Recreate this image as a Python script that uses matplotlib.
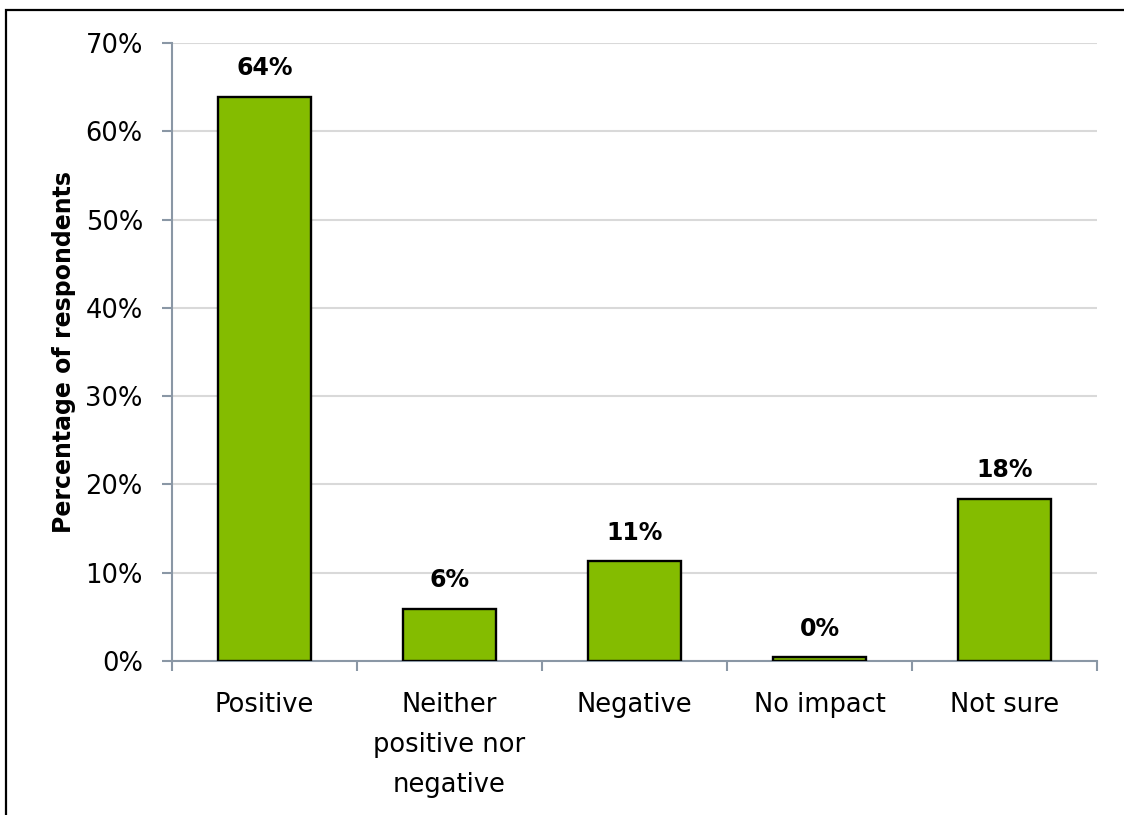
import matplotlib
matplotlib.use("Agg")
import matplotlib.pyplot as plt
from matplotlib.patches import Rectangle
from matplotlib.ticker import FixedLocator, FuncFormatter

# Survey responses
categories = ["Positive", "Neither\npositive nor\nnegative", "Negative", "No impact", "Not sure"]
shares = [63.9, 5.9, 11.3, 0.4, 18.4]
y_ticks = [0, 10, 20, 30, 40, 50, 60, 70]

BAR_COLOR = "#84bc00"
AXIS_COLOR = "#8a97a5"
GRID_COLOR = "#d9d9d9"

plt.rcParams["font.family"] = ["DejaVu Sans"]

fig = plt.figure(figsize=(11.24, 8.15), dpi=100)
W, H = 1124, 815
ax = fig.add_axes([172 / W, 1 - 661 / H, (1097 - 172) / W, (661 - 43) / H])

x = list(range(len(categories)))
ax.bar(x, shares, width=0.5, color=BAR_COLOR, edgecolor="black", linewidth=1.7, zorder=3)

for xi, v in zip(x, shares):
    ax.annotate(f"{v:.0f}%", (xi, v), xytext=(0, 12), textcoords="offset points",
                ha="center", va="bottom", fontsize=17, fontweight="bold", color="black")

ax.set_xlim(-0.5, len(categories) - 0.5)
ax.set_ylim(0, 70)
ax.set_yticks(y_ticks)
ax.yaxis.set_major_formatter(FuncFormatter(lambda v, _: f"{v:.0f}%"))
ax.yaxis.grid(True, color=GRID_COLOR, linewidth=1.5, zorder=0)
ax.set_axisbelow(True)

ax.set_xticks(x)
ax.set_xticklabels(categories, linespacing=1.7)
ax.xaxis.set_minor_locator(FixedLocator([i - 0.5 for i in range(len(categories) + 1)]))
ax.tick_params(axis="x", which="major", length=0, pad=22, labelsize=18.5)
ax.tick_params(axis="x", which="minor", length=7, width=1.5, color=AXIS_COLOR, direction="out")
ax.tick_params(axis="y", length=7, width=1.5, color=AXIS_COLOR, pad=14, labelsize=18.5)

for side in ("top", "right"):
    ax.spines[side].set_visible(False)
for side in ("left", "bottom"):
    ax.spines[side].set_color(AXIS_COLOR)
    ax.spines[side].set_linewidth(1.5)

ax.set_ylabel("Percentage of respondents", fontsize=17, fontweight="bold", labelpad=7)

# Outer frame, running past the right and bottom edges
fig.patches.append(Rectangle((5.5 / W, -0.1), 1.2, 1 - 9.5 / H + 0.1, transform=fig.transFigure,
                             fill=False, edgecolor="black", linewidth=1.6, zorder=10))

fig.savefig("out.png", dpi=100, facecolor="white")
